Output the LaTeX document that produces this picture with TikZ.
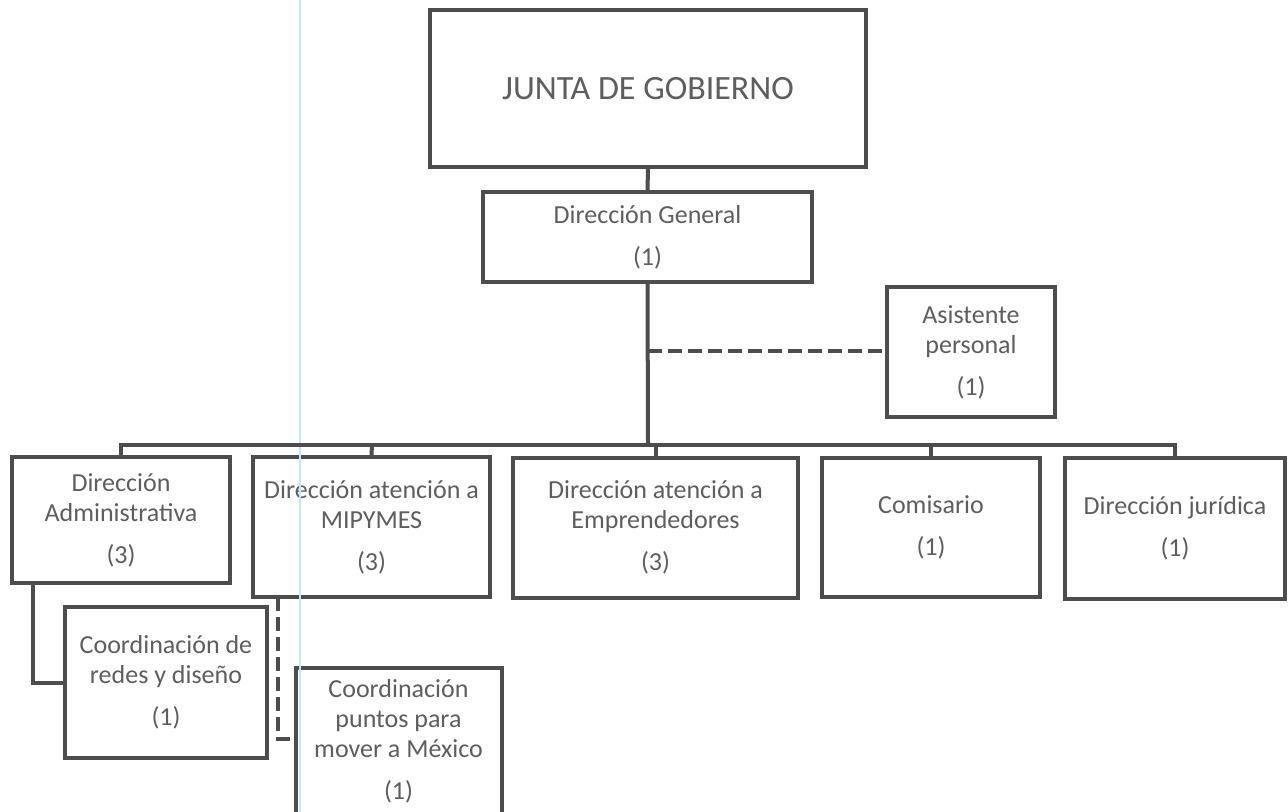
\documentclass[tikz,border=0pt]{standalone}
\usepackage{fontspec}
\setmainfont{Carlito}
\begin{document}
\begin{tikzpicture}[x=0.5pt,y=-0.5pt,
  ln/.style={draw=linegray,line width=2pt},
  box/.style={ln,rectangle,inner sep=0pt,align=center,text=textgray,
    font=\fontsize{13pt}{15pt}\selectfont},
  dsh/.style={ln,dash pattern=on 7pt off 3pt}]
\definecolor{linegray}{HTML}{4D4D4D}
\definecolor{textgray}{HTML}{5E5E5E}
\definecolor{rulecyan}{HTML}{BDEBF7}
\useasboundingbox (0,0) rectangle (1288,812);
\fill[white] (0,0) rectangle (1288,812);
% nodes
\node[box,minimum width=218pt,minimum height=78.5pt,font=\fontsize{17pt}{20pt}\selectfont] (junta) at (648,88.5) {JUNTA DE GOBIERNO};
\node[box,minimum width=164.5pt,minimum height=45pt] (dg) at (647.5,237) {Dirección General\\[6pt](1)};
\node[box,minimum width=84pt,minimum height=65pt] (asis) at (971,352) {Asistente\\personal\\[6pt](1)};
\node[box,minimum width=109pt,minimum height=63pt] (admin) at (121,520) {Dirección\\Administrativa\\[6pt](3)};
\node[box,minimum width=118.5pt,minimum height=70pt] (mipy) at (371.5,527) {Dirección atención a\\MIPYMES\\[6pt](3)};
\node[box,minimum width=142.5pt,minimum height=70pt] (empr) at (655.5,527.5) {Dirección atención a\\Emprendedores\\[6pt](3)};
\node[box,minimum width=109pt,minimum height=69.5pt] (comi) at (931,527.5) {Comisario\\[6pt](1)};
\node[box,minimum width=110pt,minimum height=70.5pt] (juri) at (1175,528.5) {Dirección jurídica\\[6pt](1)};
\node[box,minimum width=101pt,minimum height=75.5pt] (redes) at (166,682.5) {Coordinación de\\redes y diseño\\[6pt](1)};
\node[box,minimum width=103pt,minimum height=73pt] (puntos) at (398.5,741) {Coordinación\\puntos para\\mover a México\\[6pt](1)};
% scanner guide line
\draw[rulecyan,line width=0.6pt] (300,0) -- (300,812);
% connectors
\coordinate (bus) at (648,445);
\coordinate (busL) at (121,445);
\coordinate (busR) at (1175,445);
\coordinate (asisJ) at (648,351);
\draw[ln] (junta.south) -- (dg.north);
\draw[ln] (dg.south) -- (bus);
\draw[ln,line cap=rect] (busL) -- (busR);
\draw[ln] (busL) -- (admin.north);
\draw[ln] (372,445) -- (mipy.north);
\draw[ln] (655.5,445) -- (empr.north);
\draw[ln] (931,445) -- (comi.north);
\draw[ln] (busR) -- (juri.north);
\draw[dsh] (asisJ) -- (asis.west |- asisJ);
\draw[ln] (33,583) |- (redes.west);
\draw[dsh] (278,597) |- (puntos.west |- 0,739);
\end{tikzpicture}
\end{document}
